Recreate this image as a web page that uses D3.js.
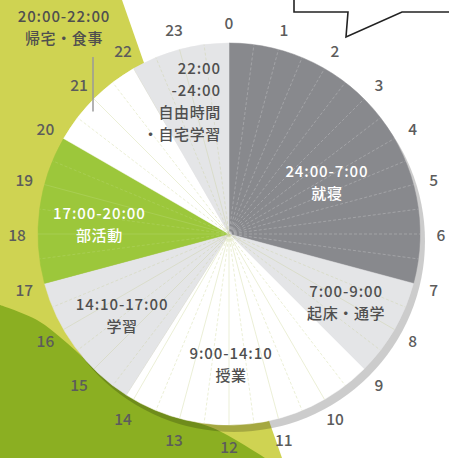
<!DOCTYPE html>
<html><head><meta charset="utf-8">
<script src="https://cdn.jsdelivr.net/npm/d3@7"></script>
<style>html,body{margin:0;padding:0;background:#fff;overflow:hidden}</style>
</head><body>
<svg id="c" width="449" height="458"></svg>
<script>
// ---- data ----
const activities = ["就寝", "起床・通学", "授業", "学習", "部活動", "帰宅・食事", "自由時間\n・自宅学習"];
const timeRanges = ["24:00-7:00", "7:00-9:00", "9:00-14:10", "14:10-17:00", "17:00-20:00", "20:00-22:00", "22:00\n-24:00"];
const startHours = [0, 7, 9, 14 + 10/60, 17, 20, 22];
const endHours   = [7, 9, 14 + 10/60, 17, 20, 22, 24];
const hourLabels = ["0","1","2","3","4","5","6","7","8","9","10","11","12","13","14","15","16","17","18","19","20","21","22","23"];

// ---- styles / layout ----
const W = 449, H = 458, cx = 229, cy = 234, R = 191;
const fills  = ["#88898d", "#e4e5e7", "#ffffff", "#e4e5e7", "#9cc73b", "#ffffff", "#e4e5e7"];
const tcol   = ["#ffffff", "#4f4f4f", "#4f4f4f", "#4f4f4f", "#ffffff", "#4f4f4f", "#4f4f4f"];
const gridCol = ["rgba(255,255,255,0.28)", "rgba(200,205,150,0.45)", "rgba(200,210,140,0.45)", "rgba(200,205,150,0.45)", "rgba(255,255,255,0.15)", "rgba(200,210,140,0.45)", "rgba(200,205,150,0.45)"];
// label anchor in polar terms: [hour, radius, anchor]
const labelPos = [[4.13, 111, "middle"], [7.99, 135, "middle"], [11.94, 130, "middle"], [15.53, 134, "middle"], [18.3, 130, "middle"], null, [23.77, 134, "end"]];
const FS = 15, LH = 22;

const svg = d3.select("#c");
const angle = d3.scaleLinear().domain([0, 24]).range([0, 2 * Math.PI]);
const polar = (h, r) => [cx + r * Math.sin(angle(h)), cy - r * Math.cos(angle(h))];
const font = "'Noto Sans CJK JP', 'Noto Sans', sans-serif";
const isLatin = s => /^[0-9:\-]+$/.test(s);

// background decorations
svg.append("rect").attr("width", W).attr("height", H).attr("fill", "#fff");
svg.append("path").attr("d", "M0,0 L122,0 L282,458 L0,458 Z").attr("fill", "#cfd352");
svg.append("path")
  .attr("d", d3.line().curve(d3.curveCatmullRom)([[0,305],[37,320],[67,343],[100,373],[133,399],[165,414],[213,428],[265,458]]) + " L0,458 Z")
  .attr("fill", "#8baf22");

// speech bubble
svg.append("path")
  .attr("d", "M294,-5 L294,12 L348,12 L346,37 L402,12 L460,12 L460,-5 Z")
  .attr("fill", "#fff").attr("stroke", "#222").attr("stroke-width", 1.6).attr("stroke-linejoin", "miter");

// shadow
svg.append("circle").attr("cx", cx + 5).attr("cy", cy + 7).attr("r", R)
  .attr("fill", "rgba(0,0,0,0.2)");

const g = svg.append("g").attr("transform", `translate(${cx},${cy})`);
const arc = d3.arc().innerRadius(0).outerRadius(R);
const segs = activities.map((a, i) => ({ i, startAngle: angle(startHours[i]), endAngle: angle(endHours[i]) }));
g.selectAll("path.seg").data(segs).join("path").attr("class", "seg")
  .attr("d", arc).attr("fill", d => fills[d.i]).attr("stroke", d => fills[d.i]).attr("stroke-width", 0.5);

// half-hour radial lines
const grid = d3.range(0, 24, 0.5).filter(h => !startHours.includes(h));
g.selectAll("line.grid").data(grid).join("line").attr("class", "grid")
  .attr("x1", 0).attr("y1", 0)
  .attr("x2", h => R * Math.sin(angle(h))).attr("y2", h => -R * Math.cos(angle(h)))
  .attr("stroke", h => gridCol[startHours.findIndex((s, i) => h >= s && h < endHours[i])])
  .attr("stroke-width", 0.8)
  .attr("stroke-dasharray", h => (h % 1 === 0 && h >= 7) ? null : "3,2");

// hour labels
svg.selectAll("text.hour").data(hourLabels).join("text").attr("class", "hour")
  .attr("x", (d, i) => polar(i, 212)[0]).attr("y", (d, i) => polar(i, 212)[1])
  .attr("text-anchor", "middle").attr("dominant-baseline", "central")
  .attr("font-family", font).attr("font-size", 15.5).attr("font-weight", 500)
  .attr("fill", "#5c5c5c").text(d => d);

function addLines(lines, x, y0, anchor, color) {
  lines.forEach((ln, k) => {
    svg.append("text").attr("x", x).attr("y", y0 + k * LH)
      .attr("text-anchor", anchor).attr("dominant-baseline", "central")
      .attr("font-family", font).attr("font-size", FS).attr("font-weight", 500)
      .attr("letter-spacing", isLatin(ln) ? 0.9 : 0.6)
      .attr("fill", color).text(ln);
  });
}

// segment labels
activities.forEach((a, i) => {
  const p = labelPos[i];
  if (!p) return;
  const [x, y] = polar(p[0], p[1]);
  const lines = timeRanges[i].split("\n").concat(a.split("\n"));
  addLines(lines, x, y - (lines.length - 1) / 2 * LH, p[2], tcol[i]);
});

// outside label for 帰宅・食事 with leader line
{
  const i = 5;
  const bottom = polar(20.8, 183);
  svg.append("line").attr("x1", bottom[0]).attr("x2", bottom[0]).attr("y1", 57).attr("y2", bottom[1])
    .attr("stroke", "#9a9a9a").attr("stroke-width", 1.5);
  addLines([timeRanges[i], activities[i]], 64, 15, "middle", tcol[i]);
}
</script>
</body></html>
